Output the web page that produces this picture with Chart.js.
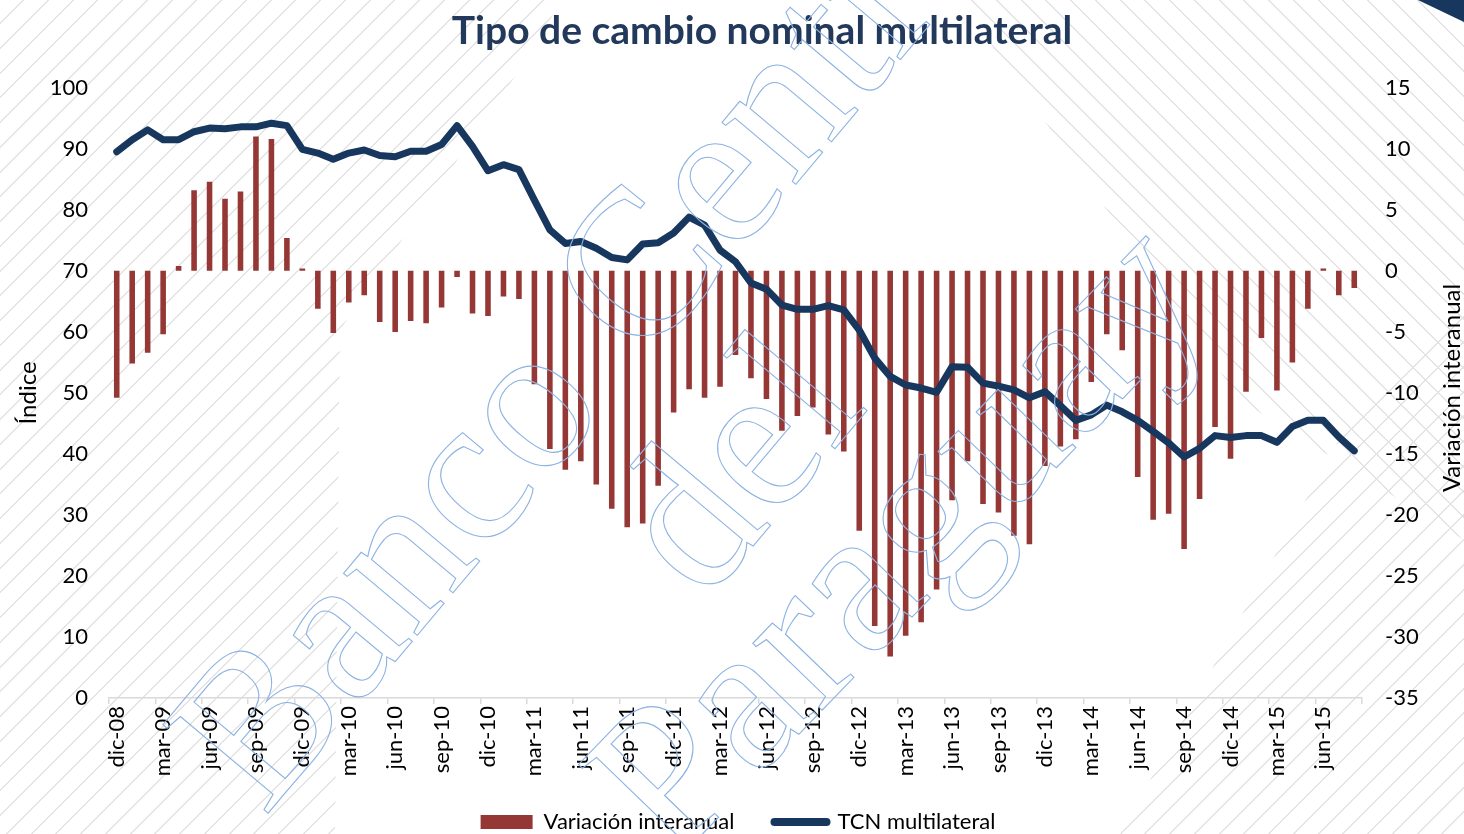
<!DOCTYPE html>
<html lang="es">
<head>
<meta charset="utf-8">
<title>Tipo de cambio nominal multilateral</title>
<script src="https://cdn.jsdelivr.net/npm/chart.js@4.4.3/dist/chart.umd.min.js"></script>
<style>
  html, body { margin: 0; padding: 0; background: #fff; }
  #wrap { position: relative; width: 1464px; height: 834px; overflow: hidden; background: #fff; }
  .hatch { position: absolute; left: 0; top: 0; width: 1464px; height: 834px; }
  #hatchLeft {
    background: repeating-linear-gradient(135deg, rgba(0,0,0,0) 0 16px, #e4e4e4 16px 17.5px);
    clip-path: polygon(0 0, 560px 0, 540px 40px, 340px 330px, 335px 834px, 0 834px);
  }
  #hatchTopRight {
    background: repeating-linear-gradient(45deg, rgba(0,0,0,0) 0 16px, #e4e4e4 16px 17.5px);
    clip-path: polygon(960px 0, 1464px 0, 1464px 540px, 1240px 400px);
  }
  #hatchBottomRight {
    background: repeating-linear-gradient(135deg, rgba(0,0,0,0) 0 16px, #e4e4e4 16px 17.5px);
    clip-path: polygon(1464px 300px, 1464px 834px, 1120px 834px, 1350px 420px);
  }
  #corner {
    position: absolute; left: 0; top: 0; width: 1464px; height: 834px; background: #17375e;
    clip-path: polygon(1418px 0, 1464px 0, 1464px 22px);
  }
  canvas { position: absolute; left: 0; top: 0; }
</style>
</head>
<body>
<div id="wrap">
  <div class="hatch" id="hatchLeft"></div>
  <div class="hatch" id="hatchTopRight"></div>
  <div class="hatch" id="hatchBottomRight"></div>
  <div id="corner"></div>
  <canvas id="grafico" width="1464" height="834"></canvas>
</div>
<script>
// meses desde dic-08 hasta ago-15
const meses = ['ene', 'feb', 'mar', 'abr', 'may', 'jun', 'jul', 'ago', 'sep', 'oct', 'nov', 'dic'];
const categorias = ['dic-08'];
for (let anio = 9; anio <= 15; anio++) {
    const hasta = anio === 15 ? 8 : 12;
    for (let m = 0; m < hasta; m++) {
        categorias.push(meses[m] + '-' + String(anio).padStart(2, '0'));
    }
}

// Variación interanual (%), eje derecho
const variacionInteranual = [
    -10.4, -7.6, -6.7, -5.2, 0.4, 6.6, 7.3, 5.9, 6.5, 11.0, 10.8, 2.7,
    0.2, -3.1, -5.1, -2.6, -2.0, -4.2, -5.0, -4.1, -4.3, -3.0, -0.5, -3.5,
    -3.7, -2.1, -2.3, -9.3, -14.6, -16.3, -15.6, -17.5, -19.5, -21.0, -20.7, -17.6,
    -11.6, -9.7, -10.4, -9.5, -6.9, -8.8, -10.5, -13.1, -11.9, -11.2, -13.4, -14.8,
    -21.3, -29.1, -31.6, -29.9, -28.8, -26.1, -18.8, -15.6, -19.1, -19.8, -21.7, -22.4,
    -16.0, -14.4, -13.8, -9.1, -5.2, -6.5, -16.9, -20.4, -19.9, -22.8, -18.7, -12.8,
    -15.4, -9.9, -5.5, -9.8, -7.5, -3.1, 0.2, -2.0, -1.4
];

// TCN multilateral (índice), eje izquierdo
const tcnMultilateral = [
    89.5, 91.5, 93.1, 91.5, 91.5, 92.8, 93.4, 93.3, 93.6, 93.6, 94.2, 93.8,
    89.9, 89.3, 88.3, 89.3, 89.8, 88.9, 88.7, 89.6, 89.6, 90.7, 93.8, 90.4,
    86.4, 87.4, 86.6, 81.6, 76.7, 74.5, 74.8, 73.7, 72.2, 71.8, 74.4, 74.6,
    76.2, 78.8, 77.5, 73.4, 71.5, 68.0, 67.0, 64.4, 63.7, 63.7, 64.3, 63.6,
    60.3, 55.7, 52.7, 51.3, 50.8, 50.1, 54.3, 54.2, 51.6, 51.1, 50.5, 49.2,
    50.2, 47.9, 45.5, 46.4, 48.0, 46.9, 45.5, 43.7, 41.8, 39.5, 40.9, 43.0,
    42.7, 43.0, 43.0, 41.9, 44.5, 45.5, 45.5, 42.8, 40.5
];

const colorBarras = '#953735';
const colorLinea = '#17375e';
const fuente = 'Lato, "Open Sans", sans-serif';

// textos extra: título del eje derecho y marca de agua
const extrasPlugin = {
    id: 'extras',
    afterLayout(chart) {
        // ajustes finos de posición de leyenda y título
        // (solo se sube el borde superior: la leyenda recorta a su propia caja)
        chart.legend.top -= 21;
        chart.legend.left += 6;
        chart.legend.right += 6;
        chart.titleBlock.left += 30;
        chart.titleBlock.right += 30;
    },
    afterDraw(chart) {
        const { ctx } = chart;
        ctx.save();
        ctx.font = '24px ' + fuente;
        ctx.fillStyle = '#000';
        ctx.textAlign = 'center';
        ctx.textBaseline = 'middle';
        ctx.translate(1452, 388);
        ctx.rotate(-Math.PI / 2);
        ctx.fillText('Variación interanual', 0, 0);
        ctx.restore();

        // marca de agua
        ctx.save();
        ctx.strokeStyle = '#8db3e2';
        ctx.lineWidth = 1.1;
        ctx.font = '210px "Liberation Serif", "DejaVu Serif", serif';
        ctx.textAlign = 'center';
        ctx.textBaseline = 'middle';
        const lineas = [
            { texto: 'Banco Central', x: 610, y: 320, ang: -50 },
            { texto: 'del', x: 745, y: 470, ang: -50 },
            { texto: 'Paraguay', x: 905, y: 545, ang: -46 }
        ];
        lineas.forEach(l => {
            ctx.save();
            ctx.translate(l.x, l.y);
            ctx.rotate(l.ang * Math.PI / 180);
            ctx.strokeText(l.texto, 0, 0);
            ctx.restore();
        });
        ctx.restore();
    }
};

const canvas = document.getElementById('grafico');
new Chart(canvas.getContext('2d'), {
    type: 'bar',
    data: {
        labels: categorias,
        datasets: [
            {
                type: 'line',
                label: 'TCN multilateral',
                data: tcnMultilateral,
                yAxisID: 'y',
                borderColor: colorLinea,
                backgroundColor: colorLinea,
                borderWidth: 7,
                pointRadius: 0,
                tension: 0,
                borderJoinStyle: 'round',
                borderCapStyle: 'round'
            },
            {
                type: 'bar',
                label: 'Variación interanual',
                data: variacionInteranual,
                yAxisID: 'y1',
                backgroundColor: colorBarras,
                barPercentage: 0.36,
                categoryPercentage: 1
            }
        ]
    },
    options: {
        responsive: false,
        animation: false,
        layout: { padding: 0 },
        plugins: {
            title: {
                display: true,
                text: 'Tipo de cambio nominal multilateral',
                color: '#22395b',
                font: { family: fuente, size: 39, weight: 'bold' },
                padding: { top: 8, bottom: 33 }
            },
            legend: {
                position: 'bottom',
                maxHeight: 42,
                labels: {
                    color: '#000',
                    font: { family: fuente, size: 22 },
                    usePointStyle: true,
                    pointStyleWidth: 52,
                    boxHeight: 14,
                    padding: 40,
                    generateLabels(chart) {
                        const items = Chart.defaults.plugins.legend.labels.generateLabels(chart);
                        items.forEach(item => {
                            if (item.datasetIndex === 1) {
                                item.pointStyle = 'rect';
                                item.fillStyle = colorBarras;
                                item.lineWidth = 0;
                            } else {
                                item.pointStyle = 'line';
                                item.strokeStyle = colorLinea;
                                item.lineWidth = 8;
                                item.lineCap = 'round';
                            }
                        });
                        // barras primero, como en el original
                        return items.sort((a, b) => b.datasetIndex - a.datasetIndex);
                    }
                }
            },
            tooltip: { enabled: false }
        },
        scales: {
            x: {
                ticks: {
                    autoSkip: false,
                    maxRotation: 90,
                    minRotation: 90,
                    padding: 2,
                    color: '#000',
                    font: { family: fuente, size: 22 },
                    callback(valor, i) {
                        return i % 3 === 0 ? this.getLabelForValue(valor) : '';
                    }
                },
                grid: {
                    offset: true,
                    drawOnChartArea: false,
                    tickLength: 6,
                    lineWidth: 1.5,
                    color: c => (c.index === undefined || c.index % 3 === 0) ? '#d9d9d9' : 'rgba(0,0,0,0)'
                },
                border: { color: '#d9d9d9', width: 1.5 },
                // 834 - alto de la leyenda (42) - 698
                afterFit(escala) { escala.height = 94; }
            },
            y: {
                position: 'left',
                min: 0,
                max: 100,
                ticks: {
                    stepSize: 10,
                    padding: 21,
                    color: '#000',
                    font: { family: fuente, size: 22 }
                },
                grid: { display: false, drawTicks: false },
                border: { display: false },
                title: {
                    display: true,
                    text: 'Índice',
                    color: '#000',
                    font: { family: fuente, size: 24 },
                    padding: { top: 14, bottom: 0 }
                },
                afterFit(escala) { escala.width = 109; }
            },
            y1: {
                position: 'right',
                min: -35,
                max: 15,
                ticks: {
                    stepSize: 5,
                    padding: 23,
                    color: '#000',
                    font: { family: fuente, size: 22 }
                },
                grid: { display: false, drawTicks: false },
                border: { display: false },
                afterFit(escala) { escala.width = 102; }
            }
        }
    },
    plugins: [extrasPlugin]
});
</script>
</body>
</html>
